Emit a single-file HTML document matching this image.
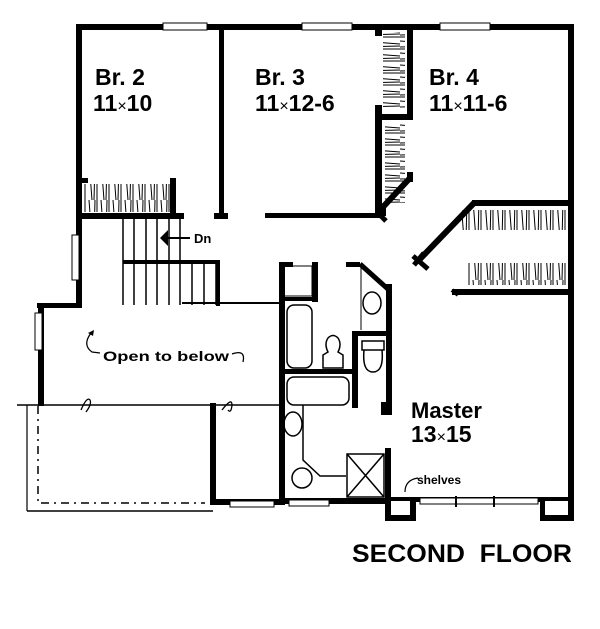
<!DOCTYPE html>
<html><head><meta charset="utf-8"><style>
html,body{margin:0;padding:0;background:#fff;}
svg{display:block;}
text{font-family:"Liberation Sans",Arial,sans-serif;font-weight:bold;fill:#000;}
</style></head><body>
<svg width="600" height="629" viewBox="0 0 600 629" xmlns="http://www.w3.org/2000/svg">
<defs>
<pattern id="hv" width="12" height="40" patternUnits="userSpaceOnUse">
<path d="M1 0V40M5 0L8 40M10 40L11 0" stroke="#000" stroke-width="1"/>
</pattern>
<pattern id="hh" width="40" height="12" patternUnits="userSpaceOnUse">
<path d="M0 1H40M0 5L40 8M40 10L0 11" stroke="#000" stroke-width="1"/>
</pattern>
</defs>
<rect x="84" y="184" width="86" height="28" fill="url(#hv)"/>
<rect x="383" y="32" width="22" height="76" fill="url(#hh)"/>
<rect x="385" y="123" width="20" height="80" fill="url(#hh)"/>
<rect x="462" y="210" width="104" height="20" fill="url(#hv)"/>
<rect x="468" y="263" width="98" height="22" fill="url(#hv)"/>
<g fill="#000">
<rect x="76" y="24" width="498" height="6"/>
<rect x="76" y="24" width="6" height="284"/>
<rect x="219" y="24" width="5" height="194"/>
<rect x="214" y="213" width="14" height="6"/>
<rect x="81" y="213" width="103" height="6"/>
<rect x="170" y="178" width="6" height="38"/>
<rect x="82" y="178" width="6" height="5"/>
<rect x="265" y="213" width="118" height="5"/>
<rect x="375" y="30" width="7" height="6"/>
<rect x="407" y="28" width="6" height="92"/>
<rect x="376" y="114" width="37" height="6"/>
<rect x="375" y="105" width="7" height="113"/>
<rect x="407" y="172" width="6" height="10"/>
<rect x="568" y="24" width="6" height="497"/>
<rect x="472" y="200" width="100" height="6"/>
<rect x="452" y="289" width="118" height="6"/>
<rect x="37" y="303" width="44" height="5"/>
<rect x="38" y="303" width="6" height="103"/>
<rect x="210" y="403" width="6" height="102"/>
<rect x="210" y="499" width="74" height="6"/>
<rect x="279" y="262" width="6" height="243"/>
<rect x="279" y="262" width="14" height="5"/>
<rect x="312" y="262" width="6" height="40"/>
<rect x="283" y="297" width="35" height="4"/>
<rect x="283" y="369" width="72" height="5"/>
<rect x="352" y="331" width="6" height="77"/>
<rect x="352" y="331" width="38" height="5"/>
<rect x="346" y="262" width="14" height="5"/>
<rect x="386" y="284" width="6" height="131"/>
<rect x="381" y="402" width="8" height="13"/>
<rect x="385" y="448" width="6" height="72"/>
<rect x="283" y="498" width="104" height="6"/>
<rect x="385" y="515" width="31" height="6"/>
<rect x="410" y="497" width="6" height="24"/>
<rect x="385" y="497" width="30" height="4"/>
<rect x="414" y="497" width="128" height="5"/>
<rect x="540" y="497" width="5" height="24"/>
<rect x="540" y="515" width="34" height="6"/>
<rect x="540" y="497" width="32" height="4"/>
</g>
<g stroke="#000" fill="none">
<path d="M410 178L383 207L383 216" stroke-width="6"/>
<path d="M474 203L420 259" stroke-width="6"/>
<path d="M413 256L428 269M414 265L424 253" stroke-width="5"/>
<path d="M378 213L386 221" stroke-width="5"/>
<path d="M360 264L389 290" stroke-width="5"/>
<path d="M452 290L458 295" stroke-width="4"/>
<path d="M182 303H280" stroke-width="2"/>
<path d="M17 405H280" stroke-width="1.5"/>
<path d="M27 511H213" stroke-width="1.5"/>
<path d="M27 405V511" stroke-width="1.2"/>
<path d="M38 406V503H205" stroke-width="1.5" stroke-dasharray="8 5 2 5"/>
<path d="M361 266V330" stroke-width="1"/>
<path d="M303 405V460L320 476H346" stroke-width="1.5"/>
<path d="M347 454H384V497H347Z M347 454L384 497M384 454L347 497" stroke-width="1.5"/>
<path d="M123 219V305M134 219V305M146 219V305M157 219V305M169 219V305M180 219V305M192 262V305M204 262V305M216 262V305" stroke-width="1.5"/>
<rect x="123" y="260" width="96" height="4" fill="#000" stroke="none"/>
<rect x="216" y="260" width="4" height="46" fill="#000" stroke="none"/>
<path d="M164 238H190" stroke-width="2"/>
<rect x="287" y="305" width="25" height="63" rx="7" stroke-width="1.5"/>
<rect x="287" y="377" width="62" height="28" rx="7" stroke-width="1.5"/>
<ellipse cx="372" cy="303" rx="9" ry="11" stroke-width="1.5"/>
<ellipse cx="293" cy="424" rx="9" ry="12" stroke-width="1.5"/>
<ellipse cx="302" cy="478" rx="10" ry="10" stroke-width="1.5"/>
<path d="M323 368V355L328 352Q324 344 328 338Q333 333 338 338Q342 344 338 352L343 355V368Z" stroke-width="1.5"/>
<path d="M362 341H384V350H362Z M364 350Q362 372 373 372Q384 372 382 350" stroke-width="1.5"/>
<rect x="284" y="266" width="28" height="30" stroke-width="1"/>
<rect x="163" y="23" width="44" height="7" fill="#fff" stroke-width="1"/>
<rect x="302" y="23" width="50" height="7" fill="#fff" stroke-width="1"/>
<rect x="440" y="23" width="50" height="7" fill="#fff" stroke-width="1"/>
<rect x="72" y="235" width="7" height="45" fill="#fff" stroke-width="1"/>
<rect x="35" y="313" width="7" height="37" fill="#fff" stroke-width="1"/>
<rect x="230" y="501" width="44" height="6" fill="#fff" stroke-width="1"/>
<rect x="289" y="500" width="40" height="6" fill="#fff" stroke-width="1"/>
<rect x="420" y="498" width="118" height="6" fill="#fff" stroke-width="1"/>
<path d="M456 496V507M494 496V507" stroke-width="2"/>
<path d="M91 333Q82 345 92 352L100 353" stroke-width="1.3"/>
<path d="M232 354Q246 349 243 362" stroke-width="1.3"/>
<path d="M81 410Q87 396 90 400Q92 404 86 412M222 410Q232 397 232 405Q231 414 228 410" stroke-width="1.3"/>
<path d="M418 478Q405 480 405 492" stroke-width="1.2"/>
</g>
<path d="M160 238L168 230V246Z" fill="#000"/>
<path d="M88 333L94 330L93 336Z" fill="#000"/>
<text x="95" y="85" font-size="23">Br. 2</text>
<text x="93" y="111" font-size="23">11<tspan font-size="16" font-weight="normal">×</tspan>10</text>
<text x="255" y="85" font-size="23">Br. 3</text>
<text x="255" y="111" font-size="23">11<tspan font-size="16" font-weight="normal">×</tspan>12-6</text>
<text x="429" y="85" font-size="23">Br. 4</text>
<text x="429" y="111" font-size="23">11<tspan font-size="16" font-weight="normal">×</tspan>11-6</text>
<text x="411" y="418" font-size="22">Master</text>
<text x="411" y="442" font-size="23">13<tspan font-size="16" font-weight="normal">×</tspan>15</text>
<text x="194" y="243" font-size="13">Dn</text>
<text x="103" y="361" font-size="14" textLength="126" lengthAdjust="spacingAndGlyphs">Open to below</text>
<text x="417" y="484" font-size="12">shelves</text>
<text x="352" y="562" font-size="25" textLength="220" lengthAdjust="spacingAndGlyphs">SECOND&#160; FLOOR</text>
</svg>
</body></html>
